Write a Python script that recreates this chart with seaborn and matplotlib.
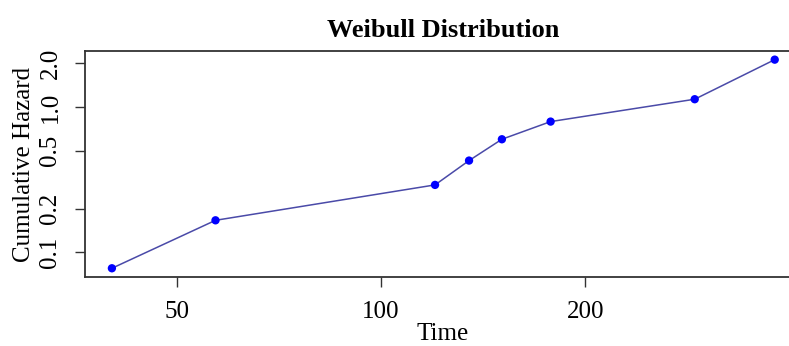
import matplotlib
matplotlib.use("Agg")
import matplotlib.pyplot as plt
from matplotlib.ticker import FixedLocator, FixedFormatter, NullLocator
import seaborn as sns
import pandas as pd

# Cumulative hazard estimates at each event time
time = [40.1, 57.0, 120.1, 134.8, 150.7, 177.8, 290.0, 380.5]
cum_hazard = [0.0776, 0.166, 0.291, 0.428, 0.600, 0.794, 1.132, 2.12]

x_ticks = [50, 100, 200]
x_tick_labels = ["50", "100", "200"]
y_ticks = [0.1, 0.2, 0.5, 1.0, 2.0]
y_tick_labels = ["0.1", "0.2", "0.5", "1.0", "2.0"]

df = pd.DataFrame({"Time": time, "Cumulative Hazard": cum_hazard})

sns.set_style("white")
plt.rcParams["font.family"] = ["Liberation Serif", "DejaVu Serif"]
plt.rcParams["text.color"] = "black"
plt.rcParams["axes.labelcolor"] = "black"

W, H = 789, 346
fig = plt.figure(figsize=(W / 100, H / 100), dpi=100)
left, right, top, bottom = 85, 801, 51.3, 276.6
ax = fig.add_axes([left / W, 1 - bottom / H, (right - left) / W, (bottom - top) / H])

ax.set_xscale("log")
ax.set_yscale("log")

sns.lineplot(data=df, x="Time", y="Cumulative Hazard", ax=ax,
             color="#4a4aa8", linewidth=1.1, sort=False)
sns.scatterplot(data=df, x="Time", y="Cumulative Hazard", ax=ax,
                color="#0000ff", s=36, edgecolor="none", zorder=3)

ax.set_xlim(36.6, 416)
ax.set_ylim(0.0680, 2.42)

ax.xaxis.set_major_locator(FixedLocator(x_ticks))
ax.xaxis.set_major_formatter(FixedFormatter(x_tick_labels))
ax.xaxis.set_minor_locator(NullLocator())
ax.yaxis.set_major_locator(FixedLocator(y_ticks))
ax.yaxis.set_major_formatter(FixedFormatter(y_tick_labels))
ax.yaxis.set_minor_locator(NullLocator())

ax.tick_params(axis="both", which="major", direction="out", length=7.5,
               width=1.0, color="#333333", labelsize=18, labelcolor="black",
               bottom=True, left=True)
ax.tick_params(axis="x", pad=10)
ax.tick_params(axis="y", pad=9.5)
for lab in ax.get_yticklabels():
    lab.set_rotation(90)
    lab.set_va("center")

for side in ["left", "top", "bottom", "right"]:
    ax.spines[side].set_visible(True)
    ax.spines[side].set_color("#333333")
    ax.spines[side].set_linewidth(1.3)

ax.set_xlabel("Time", fontsize=18)
ax.xaxis.label.set_va("baseline")
ax_h = bottom - top
ax.xaxis.set_label_coords(0.5, -(339.5 - bottom) / ax_h)
ax.set_ylabel("Cumulative Hazard", fontsize=18, labelpad=3)
ax.set_title("Weibull Distribution", fontsize=19, fontweight="bold", pad=10)

fig.savefig("out.png", dpi=100)
